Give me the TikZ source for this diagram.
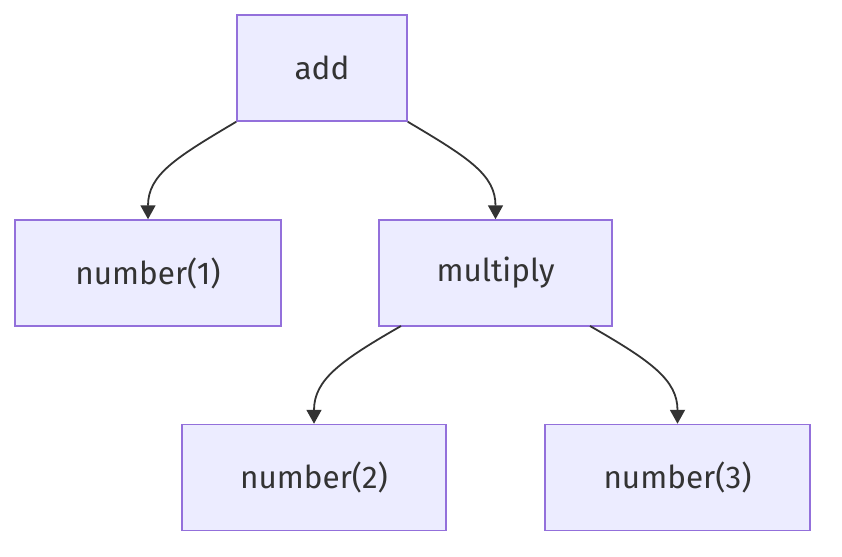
\documentclass[tikz,border=0pt]{standalone}
\usepackage{fontspec}
\setmainfont{Fira Sans}
\usetikzlibrary{arrows.meta}
\definecolor{boxfill}{HTML}{ECECFF}
\definecolor{boxline}{HTML}{9370DB}
\definecolor{ink}{HTML}{333333}
\begin{document}
\begin{tikzpicture}[x=1pt,y=-1pt,
  box/.style={draw=boxline,fill=boxfill,line width=1.5pt,minimum height=106pt,inner sep=0pt,text=ink,font=\fontsize{31.5}{35}\selectfont},
  link/.style={draw=ink,line width=1.8pt,-{Triangle[length=14pt,width=15pt]}}]
\useasboundingbox (0,0) rectangle (842,556);
\node[box,minimum width=170pt] (add) at (322,68) {add};
\node[box,minimum width=266pt] (n1) at (148,273) {number(1)};
\node[box,minimum width=233pt] (mul) at (495.5,273) {multiply};
\node[box,minimum width=264pt] (n2) at (314,477.5) {number(2)};
\node[box,minimum width=265pt] (n3) at (677.5,477.5) {number(3)};
\draw[link] (add.south west) .. controls (175,158) and (148,175) .. (n1.north);
\draw[link] (add.south east) .. controls (469,158) and (495.5,175) .. (mul.north);
\draw[link] (401,326) .. controls (340,361) and (314,380) .. (n2.north);
\draw[link] (590,326) .. controls (651,361) and (677.5,380) .. (n3.north);
\end{tikzpicture}
\end{document}
